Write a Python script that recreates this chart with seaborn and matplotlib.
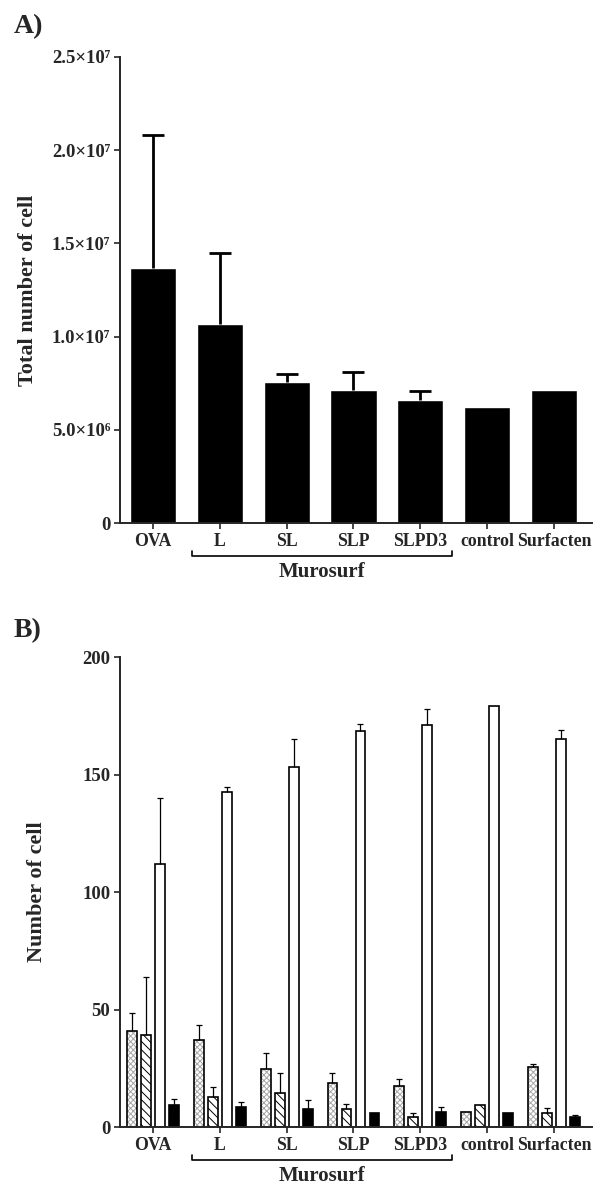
import numpy as np
import pandas as pd
import matplotlib
matplotlib.use("Agg")
import matplotlib.pyplot as plt
import matplotlib.transforms as mtransforms
import seaborn as sns

# groups shared by both panels
groups = ["OVA", "L", "SL", "SLP", "SLPD3", "control", "Surfacten"]

# panel A: total cell count (mean, upper error)
total_mean = [1.37e7, 1.067e7, 7.56e6, 7.15e6, 6.6e6, 6.25e6, 7.15e6]
total_err = [0.71e7, 0.38e7, 0.46e6, 0.97e6, 0.46e6, 0.0, 0.0]
a_ticks = [0, 5e6, 1e7, 1.5e7, 2e7, 2.5e7]
a_ticklabels = ["0", "5.0×10⁶", "1.0×10⁷", "1.5×10⁷", "2.0×10⁷", "2.5×10⁷"]

# panel B: differential counts, four cell types per group
cell_types = ["type1", "type2", "type3", "type4"]
type1_mean = [40.7, 37.0, 24.7, 18.6, 17.3, 6.3, 25.5]
type1_err = [7.9, 6.3, 6.9, 4.4, 3.3, 0.0, 1.5]
type2_mean = [39.0, 12.8, 14.3, 7.7, 4.4, 9.4, 6.1]
type2_err = [25.0, 4.2, 8.7, 2.2, 1.6, 0.0, 2.1]
type3_mean = [112.0, 142.7, 153.4, 168.7, 171.0, 179.0, 165.0]
type3_err = [28.0, 1.8, 11.6, 2.8, 7.0, 0.0, 4.0]
type4_mean = [9.4, 8.6, 7.7, 5.8, 6.3, 6.1, 4.1]
type4_err = [2.6, 2.1, 3.8, 0.0, 2.4, 0.0, 1.2]
b_ticks = [0, 50, 100, 150, 200]

SERIF = ["Liberation Serif", "DejaVu Serif"]

sns.set_style("ticks")
plt.rcParams["font.family"] = SERIF
plt.rcParams["font.weight"] = "bold"
plt.rcParams["hatch.linewidth"] = 0.7


def upper_errorbars(ax, xs, ys, errs, lw, capsize):
    """Upper-only error bars, skipping bars without error."""
    xs = np.asarray(xs)
    ys = np.asarray(ys)
    errs = np.asarray(errs)
    keep = errs > 0
    eb = ax.errorbar(xs[keep], ys[keep],
                     yerr=[np.zeros(keep.sum()), errs[keep]],
                     fmt="none", ecolor="black", elinewidth=lw,
                     capsize=capsize, capthick=lw)
    caps = eb.lines[1]
    if len(caps) == 2:
        caps[0].set_visible(False)


def style_axis(ax):
    sns.despine(ax=ax)
    for s in ["left", "bottom"]:
        ax.spines[s].set_linewidth(1.4)
    ax.set_xlim(-0.494, 6.57)
    ax.tick_params(axis="both", direction="out", length=4, width=1.2,
                   labelsize=13.5, pad=3)
    ax.tick_params(axis="x", labelsize=12.8)
    ax.set_xlabel("")
    for lab in ax.get_xticklabels() + ax.get_yticklabels():
        lab.set_fontweight("bold")


def murosurf_bracket(ax):
    trans = mtransforms.blended_transform_factory(ax.transData, ax.transAxes)
    x0, x1 = 0.58, 4.47
    y = -0.071
    ax.plot([x0, x0, x1, x1], [y + 0.012, y, y, y + 0.012], color="black",
            lw=1.2, transform=trans, clip_on=False)
    ax.text((x0 + x1) / 2, y - 0.012, "Murosurf", transform=trans,
            ha="center", va="top", fontsize=15, fontweight="bold")


fig = plt.figure(figsize=(6.11, 11.86), dpi=100)

# ---------- panel A ----------
ax_a = fig.add_axes([0.1964, 0.559, 0.7725, 0.393])
df_a = pd.DataFrame({"group": groups, "total": total_mean})
sns.barplot(data=df_a, x="group", y="total", color="black", width=0.69,
            saturation=1, ax=ax_a)
xa = [p.get_x() + p.get_width() / 2 for p in ax_a.containers[0]]
upper_errorbars(ax_a, xa, total_mean, total_err, lw=2, capsize=8)
ax_a.set_ylim(0, 2.5e7)
ax_a.set_yticks(a_ticks)
ax_a.set_yticklabels(a_ticklabels)
ax_a.set_ylabel("Total number of cell", fontsize=16, fontweight="bold")
ax_a.yaxis.set_label_coords(-0.174, 0.5)
style_axis(ax_a)
murosurf_bracket(ax_a)
fig.text(0.022, 0.988, "A)", fontsize=20, fontweight="bold", va="top")

# ---------- panel B ----------
ax_b = fig.add_axes([0.1964, 0.0497, 0.7725, 0.3963])
means = [type1_mean, type2_mean, type3_mean, type4_mean]
errs = [type1_err, type2_err, type3_err, type4_err]
df_b = pd.DataFrame({
    "group": groups * 4,
    "cell": np.repeat(cell_types, len(groups)),
    "count": np.concatenate(means),
})
sns.barplot(data=df_b, x="group", y="count", hue="cell",
            palette=["white", "white", "white", "black"], width=0.84, gap=0.3,
            saturation=1, edgecolor="black", linewidth=1.2, legend=False,
            ax=ax_b)

hatches = ["xxxxxx", "\\\\\\\\", "", ""]
for cont, hatch, m, e in zip(ax_b.containers, hatches, means, errs):
    for p in cont:
        if hatch:
            p.set_hatch(hatch)
            if hatch.startswith("x"):
                if hasattr(p, "set_hatchcolor"):
                    p.set_hatchcolor("0.65")
                else:
                    p._hatch_color = (0.65, 0.65, 0.65, 1.0)
    xb = [p.get_x() + p.get_width() / 2 for p in cont]
    upper_errorbars(ax_b, xb, m, e, lw=0.9, capsize=2.5)

ax_b.set_ylim(0, 200)
ax_b.set_yticks(b_ticks)
ax_b.set_ylabel("Number of cell", fontsize=16, fontweight="bold")
ax_b.yaxis.set_label_coords(-0.155, 0.5)
style_axis(ax_b)
murosurf_bracket(ax_b)
fig.text(0.022, 0.479, "B)", fontsize=20, fontweight="bold", va="top")

fig.savefig("out.png", dpi=100)
